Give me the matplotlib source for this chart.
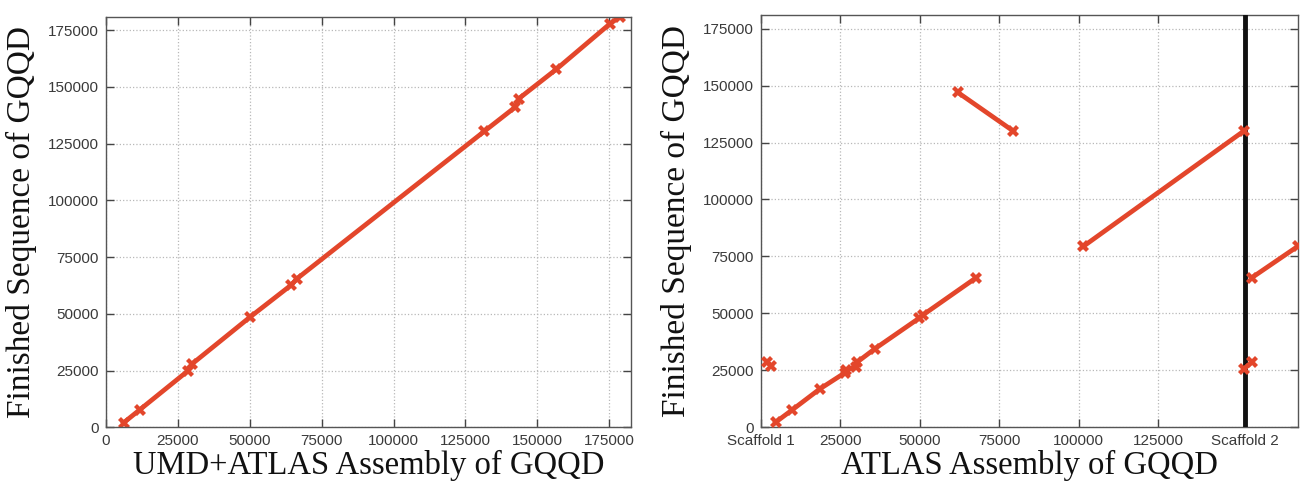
import matplotlib
matplotlib.use('Agg')
import matplotlib.pyplot as plt

# left panel: UMD+ATLAS vs finished
left_x = [6100, 11700, 28600, 30000, 50000, 64500, 66300, 131500, 142400, 143600, 156600, 175300, 178600]
left_y = [2000, 7700, 25000, 28000, 48500, 62800, 65400, 130400, 141200, 144900, 157800, 177900, 180800]

# right panel: ATLAS vs finished, one list per segment
seg1_x = [1950, 3250]
seg1_y = [28500, 27100]
seg2_x = [4600, 9800, 18500, 26400, 26800, 30000, 30200, 35800, 49900, 51000, 67700]
seg2_y = [2200, 7600, 16800, 23900, 25200, 26600, 28500, 34400, 48000, 49300, 65600]
seg3_x = [62000, 79500]
seg3_y = [147000, 130000]
seg4_x = [101500, 152000]
seg4_y = [79400, 130000]
seg5_x = [152100, 154500]
seg5_y = [25600, 28500]
seg6_x = [154500, 169000]
seg6_y = [65600, 79400]

scaffold2 = 152300
right_ticks = [0, 25000, 50000, 75000, 100000, 125000, scaffold2]
right_labels = ['Scaffold 1', '25000', '50000', '75000', '100000', '125000', 'Scaffold 2']
yticks = [0, 25000, 50000, 75000, 100000, 125000, 150000, 175000]

red = '#e3462b'
plt.rcParams['font.family'] = 'Liberation Sans'

fig = plt.figure(figsize=(13.01, 4.86), dpi=100)
ax1 = fig.add_axes([0.0815, 0.1208, 0.4033, 0.8449])
ax2 = fig.add_axes([0.5849, 0.1208, 0.4125, 0.8484])


def style(ax):
    ax.grid(True, linestyle=':', color='#b8b8b8', linewidth=0.9)
    ax.set_axisbelow(True)
    ax.tick_params(direction='in', top=True, right=True, length=6, width=1,
                   color='#444444', labelsize=11, labelcolor='#3a3a3a', pad=5)
    for s in ax.spines.values():
        s.set_color('#555555')
        s.set_linewidth(1)
    ax.set_yticks(yticks)
    ax.set_yticklabels([str(v) for v in yticks])
    ax.set_ylim(0, 181000)
    ax.set_ylabel('Finished Sequence of GQQD', family='Liberation Serif',
                  fontsize=24, color='#111111', labelpad=8)


style(ax1)
ax1.plot(left_x, left_y, color=red, lw=3.4, marker='X', ms=9, mew=0)
ax1.set_xlim(0, 182500)
ax1.set_xticks([0, 25000, 50000, 75000, 100000, 125000, 150000, 175000])
ax1.set_xticklabels(['0', '25000', '50000', '75000', '100000', '125000', '150000', '175000'])
ax1.set_xlabel('UMD+ATLAS Assembly of GQQD', family='Liberation Serif',
               fontsize=23.5, color='#111111', labelpad=1)

style(ax2)
ax2.axvline(scaffold2, color='#111111', lw=3.5, zorder=3)
for sx, sy in [(seg1_x, seg1_y), (seg2_x, seg2_y), (seg3_x, seg3_y),
               (seg4_x, seg4_y), (seg5_x, seg5_y), (seg6_x, seg6_y)]:
    ax2.plot(sx, sy, color=red, lw=3.4, marker='X', ms=9, mew=0, zorder=4)
ax2.set_xlim(0, 169000)
ax2.set_xticks(right_ticks)
ax2.set_xticklabels(right_labels)
ax2.set_xlabel('ATLAS Assembly of GQQD', family='Liberation Serif',
               fontsize=23.5, color='#111111', labelpad=1)

fig.savefig('out.png', dpi=100)
